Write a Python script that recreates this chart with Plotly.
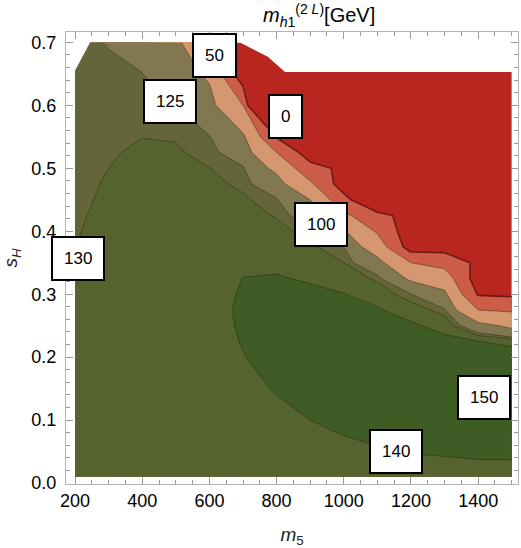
import numpy as np
import plotly.graph_objects as go

# ---- data grid ----
m5 = [200, 250, 300, 400, 500, 600, 700, 800, 900, 1000, 1100, 1200, 1300, 1400, 1500]
sH = [0.01, 0.05, 0.10, 0.15, 0.20, 0.225, 0.25, 0.275, 0.30, 0.325, 0.35, 0.375,
      0.40, 0.425, 0.45, 0.475, 0.50, 0.525, 0.55, 0.60, 0.65, 0.70]

# m_h1 (2L) values along sH for each m5 column
z_m200 = [134, 134, 134, 133.5, 133, 132.6, 132.2, 131.9, 131.5, 130.9, 130.2, 129.7, 129.4, 129, 128.5, 128.3, 128, 127.8, 127.5, 127, 126.5, 126]
z_m250 = [134.5, 134.5, 134.5, 134.2, 134, 133.8, 133.5, 133.2, 133, 132.5, 132, 131.5, 131, 130.4, 129.8, 129.3, 128.8, 128.4, 127.9, 127, 126.2, 125.5]
z_m300 = [135, 135, 135, 135, 135, 134.9, 134.8, 134.6, 134.5, 134.1, 133.7, 133.4, 133, 132.2, 131.5, 130.8, 130, 129.4, 128.7, 127.4, 126.1, 124.7]
z_m400 = [135.5, 135.6, 135.7, 135.9, 136, 136, 136, 136, 136, 135.8, 135.5, 135.3, 135, 134.3, 133.5, 132.8, 132, 131, 129.9, 127.5, 125.1, 122.5]
z_m500 = [135.5, 135.7, 136, 136.2, 136.5, 136.5, 136.5, 136.5, 136.5, 136.3, 136, 135.8, 135.5, 134.8, 134, 133, 132, 130.9, 129.5, 125, 114.6, 104]
z_m600 = [135.5, 135.9, 136.3, 136.6, 137, 137, 137, 137, 137, 136.6, 136.3, 135.9, 135.5, 134.5, 133.5, 131.8, 130.1, 127.8, 125.5, 111.8, 94.5, 80]
z_m700 = [135, 135.7, 136.5, 138, 139.7, 140.4, 141, 141.4, 140.8, 140.1, 138.7, 137.1, 135.5, 133.3, 131.1, 128.6, 126, 118.2, 106.8, 50, -33, -20]
z_m800 = [134, 135.5, 138, 140.5, 143, 143.5, 144, 143.3, 142.5, 140.7, 138.2, 135.3, 132.4, 129.4, 126.3, 114.3, 91.7, 50, -3, -300, -300, -300]
z_m900 = [134.5, 137, 140, 143, 145, 145, 145, 144, 142, 139, 135.2, 131.5, 127.5, 117.9, 100, 58.3, 16.7, -25, -300, -300, -300, -300]
z_m1000 = [135, 138.5, 141.5, 144.5, 146, 145.5, 145, 142.6, 140.3, 135.3, 130, 125, 104.2, 60, 16.7, -25, -10, -300, -300, -300, -300, -300]
z_m1100 = [135.5, 139.3, 143, 145.5, 146, 145.5, 144, 141.1, 135.5, 128.4, 112.5, 78.6, 44.3, 15.9, -60, -300, -300, -300, -300, -300, -300, -300]
z_m1200 = [136, 140.4, 144, 146, 146, 144.9, 141.8, 135, 125, 94.6, 50, -23.5, -30, -19, -300, -300, -300, -300, -300, -300, -300, -300]
z_m1300 = [136.5, 140.8, 145, 147.5, 146.5, 143, 136.3, 126.4, 108.3, 76.6, 33.3, -18.7, -300, -300, -300, -300, -300, -300, -300, -300, -300, -300]
z_m1400 = [137, 141.4, 147, 150.5, 145, 140.2, 112.5, 50, -4, -25, -10.5, -300, -300, -300, -300, -300, -300, -300, -300, -300, -300, -300]
z_m1500 = [137, 141.4, 146.5, 148, 145, 137.5, 92.3, 43.75, -8.3, -300, -300, -300, -300, -300, -300, -300, -300, -300, -300, -300, -300, -300]

z_columns = [z_m200, z_m250, z_m300, z_m400, z_m500, z_m600, z_m700, z_m800,
             z_m900, z_m1000, z_m1100, z_m1200, z_m1300, z_m1400, z_m1500]
z = np.array(z_columns, dtype=float).T.tolist()

# contour levels and labels
levels = [0, 50, 100, 125, 130, 140, 150]
label_text = ["0", "50", "100", "125", "130", "140", "150"]
label_m5 = [826, 614, 933, 483, 209, 1156, 1417]
label_sH = [0.5825, 0.679, 0.411, 0.606, 0.357, 0.0508, 0.1365]

# boundary of the sampled region (outside is blank)
mask_tr_m5 = [685, 691, 774, 825, 1505, 1505]
mask_tr_sH = [0.705, 0.700, 0.677, 0.653, 0.653, 0.705]
mask_tl_m5 = [195, 250, 195]
mask_tl_sH = [0.650, 0.705, 0.705]

# band colours: <0, 0-50, 50-100, 100-125, 125-130, 130-140, 140-150, >150
band_colors = ['#b9261f', '#cd5d48', '#d5976f', '#817751', '#646538',
               '#55632f', '#3f5c24', '#365420']

step = 5
c_start, c_end = 0, 150
lo, hi = c_start - step / 2, c_end + step / 2
edges = [lo] + levels + [hi]
colorscale = []
for i, col in enumerate(band_colors):
    a = (edges[i] - lo) / (hi - lo)
    b = (edges[i + 1] - lo) / (hi - lo)
    colorscale.append([a, col])
    colorscale.append([b, col])

fig = go.Figure()
fig.add_trace(go.Contour(
    x=m5, y=sH, z=z, autocontour=False,
    contours=dict(start=c_start, end=c_end, size=step, coloring='fill', showlines=False),
    colorscale=colorscale, showscale=False,
    line=dict(width=0, smoothing=0), hoverinfo='skip'))

for L in levels:
    if L == 0:
        lc, lw = '#6e1a13', 1.6
    else:
        lc, lw = 'rgba(25,30,10,0.5)', 0.8
    fig.add_trace(go.Contour(
        x=m5, y=sH, z=z, autocontour=False,
        contours=dict(start=L, end=L, size=1, coloring='none'),
        line=dict(color=lc, width=lw, smoothing=0),
        showscale=False, hoverinfo='skip'))

for mx, my in [(mask_tr_m5, mask_tr_sH), (mask_tl_m5, mask_tl_sH)]:
    fig.add_trace(go.Scatter(x=mx, y=my, mode='lines', fill='toself',
                             fillcolor='white', line=dict(width=0, color='white'),
                             hoverinfo='skip', showlegend=False))

for t, lx, ly in zip(label_text, label_m5, label_sH):
    fig.add_annotation(x=lx, y=ly, xref='x', yref='y', text=t, showarrow=False,
                       font=dict(size=17, color='black', family='Liberation Sans, Arial'),
                       bgcolor='white', bordercolor='black', borderwidth=2, borderpad=11)

axis_common = dict(showline=True, linecolor='#b4b4b4', linewidth=1, mirror='allticks',
                   ticks='inside', tickcolor='#9a9a9a', tickwidth=1, ticklen=7,
                   showgrid=False, zeroline=False,
                   tickfont=dict(size=18, color='black', family='Liberation Sans, Arial'))

fig.update_xaxes(range=[173.2, 1518.5], tick0=200, dtick=200,
                 minor=dict(tick0=200, dtick=50, ticks='inside', ticklen=4, tickcolor='#9a9a9a'),
                 title=dict(text='<i>m</i><sub>5</sub>', standoff=22,
                            font=dict(size=19, color='#222', family='Liberation Sans, Arial')),
                 **axis_common)
fig.update_yaxes(range=[-0.0015, 0.7165], tick0=0, dtick=0.1, tickformat='.1f',
                 minor=dict(tick0=0, dtick=0.02, ticks='inside', ticklen=4, tickcolor='#9a9a9a'),
                 ticklabelstandoff=5,
                 title=dict(text='<i>s</i><sub><i>H</i></sub>', standoff=12,
                            font=dict(size=19, color='#222', family='Liberation Sans, Arial')),
                 **axis_common)

fig.update_layout(
    width=521, height=548,
    margin=dict(l=66, r=3, t=32, b=64),
    paper_bgcolor='white', plot_bgcolor='white', showlegend=False,
    title=dict(text='<i>m</i><sub><i>h</i>1</sub><sup>(2 <i>L</i>)</sup>[GeV]',
               x=0.56, xref='paper', xanchor='center', y=0.972, yref='container', yanchor='middle',
               font=dict(size=20, color='black', family='Liberation Sans, Arial')),
)

fig.write_html("out.html")
